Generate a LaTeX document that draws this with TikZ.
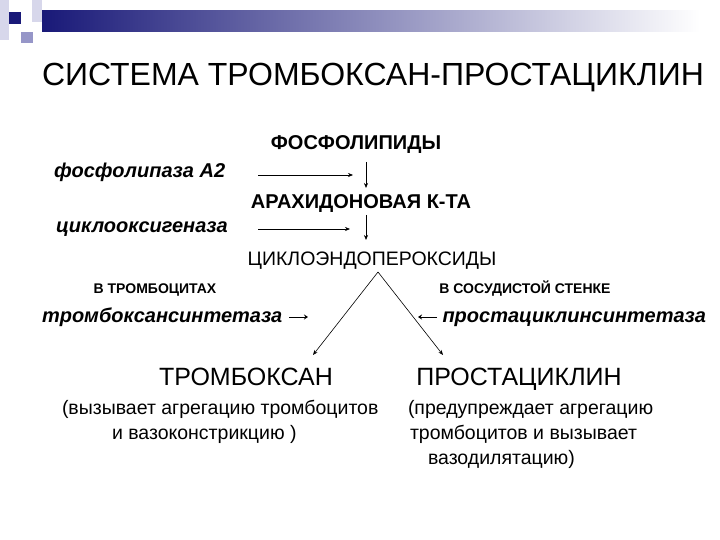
\documentclass[tikz,border=0pt]{standalone}
\usepackage{fontspec}
\setmainfont{Liberation Sans}
\usetikzlibrary{arrows.meta}
\definecolor{navy}{RGB}{25,25,120}
\definecolor{lav}{RGB}{150,150,200}
\definecolor{pale}{RGB}{215,215,235}
\tikzset{
  big/.style={font=\fontsize{20}{24}\selectfont\bfseries},
  enz/.style={font=\fontsize{20}{24}\selectfont\bfseries\itshape},
  small/.style={font=\fontsize{14}{16}\selectfont\bfseries},
  prod/.style={font=\fontsize{25}{28}\selectfont},
  desc/.style={font=\fontsize{19.5}{22}\selectfont},
  arr/.style={-{Stealth[length=5pt,width=4pt]}, line width=0.6pt},
  sarr/.style={-{Stealth[length=4pt,width=5pt]}, line width=0.8pt},
  inner sep=0pt, outer sep=0pt
}
\begin{document}
\begin{tikzpicture}[x=1pt,y=-1pt]
\useasboundingbox (0,0) rectangle (720,540);
\fill[white] (0,0) rectangle (720,540);
% decoration
\fill[pale] (0,0) rectangle (9,40);
\fill[pale] (32,0) rectangle (42,22);
\fill[navy] (9,12) rectangle (21,24);
\fill[lav] (21,32) rectangle (33,43);
\shade[left color=navy, middle color={rgb,255:red,165;green,165;blue,190}, right color=white] (42,11) rectangle (700,32);
% title
\node[font=\fontsize{32}{36}\selectfont, anchor=base west] (title) at (42,86) {СИСТЕМА ТРОМБОКСАН-ПРОСТАЦИКЛИН};
% chain
\node[big, anchor=base] (fos) at (356,150) {ФОСФОЛИПИДЫ};
\node[enz, anchor=base west] (pla) at (54,178) {фосфолипаза А2};
\coordinate (a1s) at (258,175);
\coordinate (a1e) at (353,175);
\coordinate (v1s) at (366,162);
\coordinate (v1e) at (366,188);
\draw[arr] (a1s) -- (a1e);
\draw[arr] (v1s) -- (v1e);
\node[big, anchor=base] (ara) at (361,209) {АРАХИДОНОВАЯ К-ТА};
\node[enz, anchor=base west] (cox) at (56,233) {циклооксигеназа};
\coordinate (a2s) at (258,229);
\coordinate (a2e) at (350,229);
\coordinate (v2s) at (366,215);
\coordinate (v2e) at (366,240);
\draw[arr] (a2s) -- (a2e);
\draw[arr] (v2s) -- (v2e);
\node[font=\fontsize{19.5}{22}\selectfont, anchor=base] (cep) at (372,265) {ЦИКЛОЭНДОПЕРОКСИДЫ};
\node[small, anchor=base] (vtr) at (155,293) {В ТРОМБОЦИТАХ};
\node[small, anchor=base] (vss) at (525,293) {В СОСУДИСТОЙ СТЕНКЕ};
\node[enz, anchor=base west] (txs) at (42,322) {тромбоксансинтетаза};
\node[enz, anchor=base east] (pcs) at (706,322) {простациклинсинтетаза};
\coordinate (s1s) at (289,317);
\coordinate (s1e) at (308,317);
\coordinate (s2s) at (437,317);
\coordinate (s2e) at (418,317);
\draw[sarr] (s1s) -- (s1e);
\draw[sarr] (s2s) -- (s2e);
\coordinate (apex) at (378,272);
\node[prod, anchor=base] (tbx) at (246,385) {ТРОМБОКСАН};
\node[prod, anchor=base] (pgi) at (519,385) {ПРОСТАЦИКЛИН};
\draw[arr] (apex) -- (313,355);
\draw[arr] (apex) -- (443,355);
\node[desc, anchor=base west] (d1) at (62,414) {(вызывает агрегацию тромбоцитов};
\node[desc, anchor=base west] (d2) at (112,439) {и вазоконстрикцию )};
\node[desc, anchor=base west] (d3) at (408,414) {(предупреждает агрегацию};
\node[desc, anchor=base west] (d4) at (410,439) {тромбоцитов и вызывает};
\node[desc, anchor=base west] (d5) at (428,464) {вазодилятацию)};
\end{tikzpicture}
\end{document}
